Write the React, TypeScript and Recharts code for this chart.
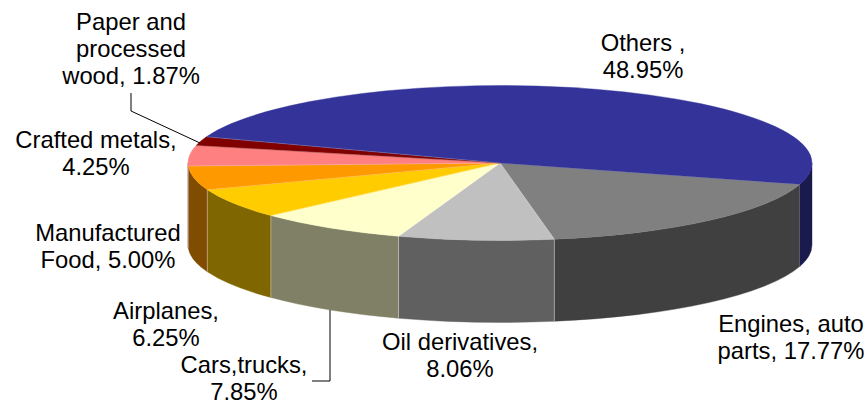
import React from "react";
import { PieChart, Pie } from "recharts";

// Share of exports by sector, clockwise from the front-right edge of the disc.
const sectors = [
  "Engines, auto parts",
  "Oil derivatives",
  "Cars,trucks",
  "Airplanes",
  "Manufactured Food",
  "Crafted metals",
  "Paper and processed wood",
  "Others",
];
const shares = [17.77, 8.06, 7.85, 6.25, 5.0, 4.25, 1.87, 48.95];
const topColors = ["#808080", "#C0C0C0", "#FFFFCC", "#FFCC00", "#FF9900", "#FF8080", "#800000", "#333399"];
const wallColors = ["#404040", "#606060", "#808066", "#806600", "#804D00", "#804040", "#400000", "#1A1A4D"];

const rows = sectors.map((name, i) => ({
  name,
  value: shares[i],
  fill: topColors[i],
  wall: wallColors[i],
}));

// Label lines and leader polylines, in the same order as the sectors.
const labelLines = [
  ["Engines, auto", "parts, 17.77%"],
  ["Oil derivatives,", "8.06%"],
  ["Cars,trucks,", "7.85%"],
  ["Airplanes,", "6.25%"],
  ["Manufactured", "Food, 5.00%"],
  ["Crafted metals,", "4.25%"],
  ["Paper and", "processed", "wood, 1.87%"],
  ["Others ,", "48.95%"],
];
const labelAnchors = [
  { x: 791, y: 332 },
  { x: 460, y: 350 },
  { x: 244, y: 373 },
  { x: 166, y: 319 },
  { x: 108, y: 241 },
  { x: 96, y: 148 },
  { x: 131, y: 30 },
  { x: 643, y: 51 },
];
const leaders: Record<number, string> = {
  2: "330,310 330,381 312,381",
  6: "131,93 131,111 200,143",
};

const WIDTH = 868;
const HEIGHT = 404;
const CENTER_X = 500;
const CENTER_Y = 163;
const RADIUS = 312;
const SQUASH = 77.5 / 312;
const DEPTH = 82;
const START_ANGLE = -16;
const LINE_HEIGHT = 27;

const RAD = Math.PI / 180;

function rimPoint(cx: number, cy: number, r: number, deg: number) {
  return {
    x: cx + r * Math.cos(deg * RAD),
    y: cy - r * SQUASH * Math.sin(deg * RAD),
  };
}

// Flattened pie wedge: the angles come from the Pie layout, the circle is squashed to an ellipse.
function TopFace(props: any) {
  const { cx, cy, outerRadius: r, startAngle, endAngle, fill } = props;
  const a = rimPoint(cx, cy, r, startAngle);
  const b = rimPoint(cx, cy, r, endAngle);
  const large = Math.abs(startAngle - endAngle) > 180 ? 1 : 0;
  const ry = r * SQUASH;
  return (
    <g>
      <path d={`M${cx},${cy} L${a.x},${a.y} A${r},${ry} 0 ${large} 1 ${b.x},${b.y} Z`} fill={fill} stroke={fill} strokeWidth={0.4} />
      <line x1={cx} y1={cy} x2={a.x} y2={a.y} stroke="#ffffff" strokeOpacity={0.25} strokeWidth={0.8} />
    </g>
  );
}

// Front wall of a wedge: only the part of the rim facing the viewer is extruded.
function SideWall(props: any) {
  const { cx, cy, outerRadius: r, startAngle, endAngle, payload } = props;
  const ry = r * SQUASH;
  const spans: [number, number][] = [];
  for (const turn of [0, -360]) {
    const from = Math.min(startAngle, turn);
    const to = Math.max(endAngle, turn - 180);
    if (from > to) spans.push([from, to]);
  }
  return (
    <g>
      {spans.map(([from, to]) => {
        const a = rimPoint(cx, cy, r, from);
        const b = rimPoint(cx, cy, r, to);
        return (
          <g key={from}>
            <path
              d={`M${a.x},${a.y} A${r},${ry} 0 0 1 ${b.x},${b.y} L${b.x},${b.y + DEPTH} A${r},${ry} 0 0 0 ${a.x},${a.y + DEPTH} Z`}
              fill={payload.wall}
              stroke={payload.wall}
              strokeWidth={0.4}
            />
            {from === startAngle && (
              <line x1={a.x} y1={a.y} x2={a.x} y2={a.y + DEPTH} stroke="#ffffff" strokeOpacity={0.4} strokeWidth={1} />
            )}
          </g>
        );
      })}
    </g>
  );
}

function SectorLabel(props: any) {
  const { index } = props;
  const anchor = labelAnchors[index];
  const leader = leaders[index];
  return (
    <g>
      {leader && <polyline points={leader} fill="none" stroke="#000000" strokeWidth={1} />}
      <text x={anchor.x} y={anchor.y} textAnchor="middle" fontSize={23.8} fill="#000000" fontFamily="'Liberation Sans', Arial, sans-serif">
        {labelLines[index].map((line, i) => (
          <tspan key={line} x={anchor.x} y={anchor.y + i * LINE_HEIGHT}>
            {line}
          </tspan>
        ))}
      </text>
    </g>
  );
}

export default function App() {
  return (
    <div style={{ position: "absolute", left: 0, top: 0, width: WIDTH, height: HEIGHT, background: "#ffffff" }}>
      <PieChart width={WIDTH} height={HEIGHT} margin={{ top: 0, right: 0, bottom: 0, left: 0 }}>
        <Pie
          data={rows}
          dataKey="value"
          nameKey="name"
          cx={CENTER_X}
          cy={CENTER_Y}
          outerRadius={RADIUS}
          startAngle={START_ANGLE}
          endAngle={START_ANGLE - 360}
          shape={SideWall}
          isAnimationActive={false}
          stroke="none"
        />
        <Pie
          data={rows}
          dataKey="value"
          nameKey="name"
          cx={CENTER_X}
          cy={CENTER_Y}
          outerRadius={RADIUS}
          startAngle={START_ANGLE}
          endAngle={START_ANGLE - 360}
          shape={TopFace}
          label={SectorLabel}
          labelLine={false}
          isAnimationActive={false}
          stroke="none"
        />
      </PieChart>
    </div>
  );
}
